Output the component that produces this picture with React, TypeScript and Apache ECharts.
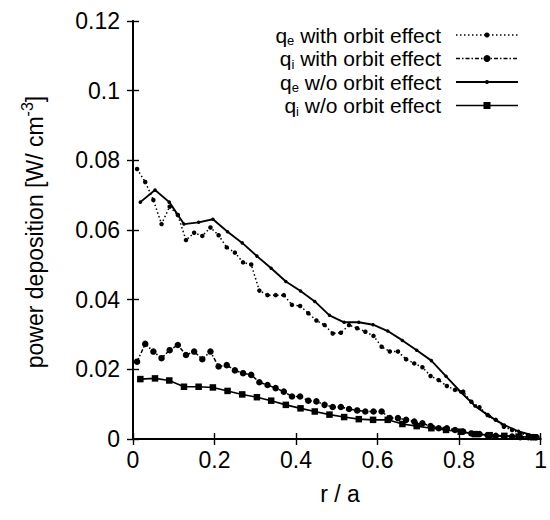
import React, { useEffect, useRef } from "react";
import * as echarts from "echarts";

// r/a sampling of the "with orbit effect" runs (50 bins) and "w/o" runs (28 bins)
const rWith = [
  0.01, 0.03, 0.05, 0.07, 0.09, 0.11, 0.13, 0.15, 0.17, 0.19,
  0.21, 0.23, 0.25, 0.27, 0.29, 0.31, 0.33, 0.35, 0.37, 0.39,
  0.41, 0.43, 0.45, 0.47, 0.49, 0.51, 0.53, 0.55, 0.57, 0.59,
  0.61, 0.63, 0.65, 0.67, 0.69, 0.71, 0.73, 0.75, 0.77, 0.79,
  0.81, 0.83, 0.85, 0.87, 0.89, 0.91, 0.93, 0.95, 0.97, 0.99,
];
const rWo = [
  0.018, 0.054, 0.089, 0.125, 0.161, 0.196, 0.232, 0.268, 0.304, 0.339,
  0.375, 0.411, 0.446, 0.482, 0.518, 0.554, 0.589, 0.625, 0.661, 0.696,
  0.732, 0.768, 0.804, 0.839, 0.875, 0.911, 0.946, 0.982,
];

const qeWith = [
  0.0775, 0.0738, 0.0686, 0.0617, 0.0667, 0.0643, 0.0571, 0.0592, 0.0583, 0.0607,
  0.0585, 0.055, 0.0535, 0.0507, 0.0501, 0.0426, 0.0413, 0.0413, 0.0413, 0.0385,
  0.0382, 0.0361, 0.034, 0.0327, 0.0303, 0.0305, 0.0327, 0.0318, 0.0308, 0.0296,
  0.0265, 0.0251, 0.0251, 0.0229, 0.0217, 0.0206, 0.0181, 0.0169, 0.0152, 0.0141,
  0.0136, 0.0107, 0.0091, 0.0069, 0.0055, 0.0035, 0.0026, 0.0016, 0.0011, 0.0007,
];
const qiWith = [
  0.0222, 0.0273, 0.0251, 0.0232, 0.0255, 0.027, 0.0241, 0.0251, 0.0229, 0.0251,
  0.0208, 0.0212, 0.0197, 0.0189, 0.0184, 0.0163, 0.0155, 0.0146, 0.0136, 0.0122,
  0.0122, 0.011, 0.0108, 0.0098, 0.0092, 0.0092, 0.0086, 0.0082, 0.0079, 0.0079,
  0.0079, 0.006, 0.006, 0.0055, 0.005, 0.0045, 0.0037, 0.0031, 0.0031, 0.0026,
  0.0021, 0.0016, 0.0014, 0.0011, 0.0009, 0.0007, 0.0007, 0.0005, 0.0005, 0.0005,
];
const qeWo = [
  0.068, 0.0715, 0.068, 0.0617, 0.0622, 0.0631, 0.0595, 0.0563, 0.0525, 0.049,
  0.0452, 0.0425, 0.0395, 0.0355, 0.0335, 0.0335, 0.0328, 0.031, 0.0283, 0.0255,
  0.0225, 0.018, 0.0135, 0.0095, 0.0065, 0.004, 0.0022, 0.001,
];
const qiWo = [
  0.0172, 0.0174, 0.0168, 0.015, 0.015, 0.0148, 0.0138, 0.0128, 0.012, 0.011,
  0.0098, 0.0088, 0.0079, 0.007, 0.0063, 0.0057, 0.0055, 0.0055, 0.0043, 0.0037,
  0.0031, 0.0026, 0.0021, 0.0014, 0.0011, 0.0009, 0.0007, 0.0005,
];

const legendNames = [
  ["q", "e", " with orbit effect"],
  ["q", "i", " with orbit effect"],
  ["q", "e", " w/o orbit effect"],
  ["q", "i", " w/o orbit effect"],
];

const FONT = "'Liberation Sans', Arial, Helvetica, sans-serif";
const INK = "#000";
const FS = 23;
const LFS = 21;

const zip = (xs: number[], ys: number[]) => xs.map((x, i) => [x, ys[i]]);

export default function App() {
  const ref = useRef<HTMLDivElement>(null);
  useEffect(() => {
    if (!ref.current) return;
    const chart = echarts.init(ref.current, null, { renderer: "svg" });

    const styles = [
      { dash: [1.5, 2.5], symbol: "circle", size: 4.5, width: 1.5 },
      { dash: [4, 2, 1.5, 2], symbol: "circle", size: 6.5, width: 1.5 },
      { dash: "solid", symbol: "circle", size: 3.5, width: 1.9 },
      { dash: "solid", symbol: "rect", size: 6.5, width: 1.6 },
    ];
    const datas = [zip(rWith, qeWith), zip(rWith, qiWith), zip(rWo, qeWo), zip(rWo, qiWo)];

    const series = datas.map((d, i) => ({
      type: "line",
      data: d,
      symbol: styles[i].symbol,
      symbolSize: styles[i].size,
      showSymbol: true,
      clip: false,
      lineStyle: { color: INK, width: styles[i].width, type: styles[i].dash as any },
      itemStyle: { color: INK },
      z: 3 + i,
    }));

    const rowY = [35, 58.5, 82, 105.5];
    const legendGraphics: any[] = [];
    legendNames.forEach((n, i) => {
      legendGraphics.push({
        type: "text",
        x: 441,
        y: rowY[i],
        style: {
          text: `{m|${n[0]}}{s|${n[1]}}{m|${n[2]}}`,
          align: "right",
          verticalAlign: "middle",
          fill: INK,
          rich: {
            m: { fontSize: LFS, fontFamily: FONT, lineHeight: 20, verticalAlign: "middle", fill: INK },
            s: { fontSize: 13, fontFamily: FONT, height: 9, lineHeight: 9, verticalAlign: "bottom", fill: INK },
          },
        },
      });
      legendGraphics.push({
        type: "line",
        shape: { x1: 456, y1: rowY[i], x2: 518, y2: rowY[i] },
        style: {
          stroke: INK,
          lineWidth: styles[i].width,
          lineDash: styles[i].dash === "solid" ? null : styles[i].dash,
        },
      });
      if (styles[i].symbol === "rect") {
        legendGraphics.push({
          type: "rect",
          shape: { x: 487 - 3.5, y: rowY[i] - 3.5, width: 7, height: 7 },
          style: { fill: INK },
        });
      } else {
        legendGraphics.push({
          type: "circle",
          shape: { cx: 487, cy: rowY[i], r: styles[i].size / 2 + 0.3 },
          style: { fill: INK },
        });
      }
    });

    const axisCommon = {
      type: "value",
      axisLine: { show: true, lineStyle: { color: INK, width: 1.8 } },
      axisTick: { show: true, inside: true, length: 6, lineStyle: { color: INK, width: 1.4 } },
      splitLine: { show: false },
    };

    chart.setOption({
      animation: false,
      backgroundColor: "#fff",
      grid: { left: 133, right: 3, top: 21, bottom: 81, containLabel: false },
      xAxis: [
        {
          ...axisCommon,
          position: "bottom",
          min: 0,
          max: 1,
          interval: 0.2,
          axisLabel: { color: INK, fontSize: FS, fontFamily: FONT, margin: 9 },
        },
        {
          ...axisCommon,
          position: "top",
          min: 0,
          max: 1,
          interval: 0.2,
          axisLabel: { show: false },
        },
      ],
      yAxis: [
        {
          ...axisCommon,
          position: "left",
          min: 0,
          max: 0.12,
          interval: 0.02,
          axisLabel: { color: INK, fontSize: FS, fontFamily: FONT, margin: 13 },
        },
        {
          ...axisCommon,
          position: "right",
          min: 0,
          max: 0.12,
          interval: 0.02,
          axisLabel: { show: false },
        },
      ],
      series,
      graphic: [
        {
          type: "text",
          x: 35,
          y: 232,
          rotation: Math.PI / 2,
          style: {
            text: "{m|power deposition [W/ cm}{p|-3}{m|]}",
            align: "center",
            verticalAlign: "middle",
            fill: INK,
            rich: {
              m: { fontSize: FS, fontFamily: FONT, lineHeight: 22, verticalAlign: "middle", fill: INK },
              p: { fontSize: 16, fontFamily: FONT, height: 6, lineHeight: 6, verticalAlign: "top", fill: INK },
            },
          },
        },
        {
          type: "text",
          x: 340,
          y: 494,
          style: {
            text: "r / a",
            align: "center",
            verticalAlign: "middle",
            fill: INK,
            fontSize: FS,
            fontFamily: FONT,
          },
        },
        ...legendGraphics,
      ],
    });
    return () => chart.dispose();
  }, []);
  return (
    <div
      ref={ref}
      style={{ position: "absolute", left: 0, top: 0, width: 550, height: 520 }}
    />
  );
}
